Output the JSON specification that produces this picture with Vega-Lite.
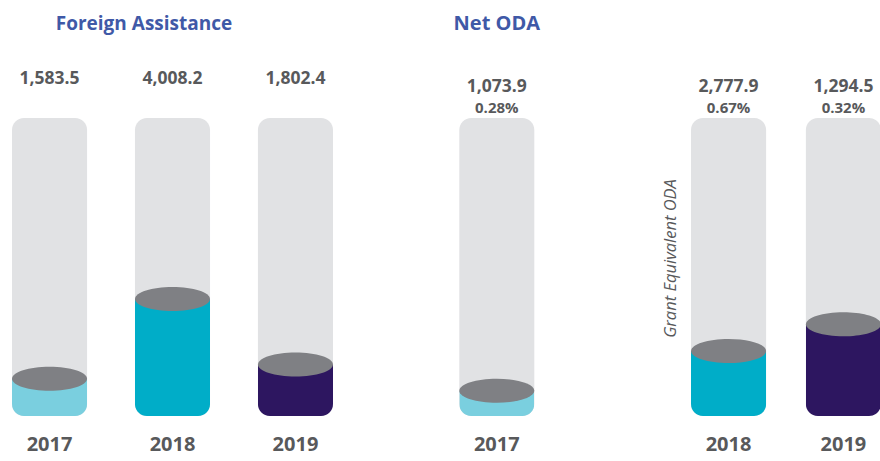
{
  "$schema": "https://vega.github.io/schema/vega-lite/v6.json",
  "background": "white",
  "padding": {"left": 12, "top": 14, "right": 0, "bottom": 5},
  "data": {"values": [
    {"group": "Foreign Assistance", "year": "2017", "value": 1583.5, "pct": null, "fill_pct": 12.5},
    {"group": "Foreign Assistance", "year": "2018", "value": 4008.2, "pct": null, "fill_pct": 39.3},
    {"group": "Foreign Assistance", "year": "2019", "value": 1802.4, "pct": null, "fill_pct": 17.3},
    {"group": "Net ODA", "year": "2017", "value": 1073.9, "pct": 0.0028, "fill_pct": 8.5},
    {"group": "Grant Equivalent ODA", "year": "2018", "value": 2777.9, "pct": 0.0067, "fill_pct": 21.8},
    {"group": "Grant Equivalent ODA", "year": "2019", "value": 1294.5, "pct": 0.0032, "fill_pct": 30.8}
  ]},
  "spacing": 126.3,
  "bounds": "flush",
  "hconcat": [
    {
      "width": 321, "height": 298,
      "title": {"text": "Foreign Assistance", "frame": "group", "anchor": "middle", "dx": -28.5, "offset": 21.3, "baseline": "alphabetic", "fontSize": 19, "fontWeight": "bold", "color": "#3f59a7", "font": "Open Sans"},
      "transform": [{"filter": "datum.group == 'Foreign Assistance'"}],
      "encoding": {"x": {"field": "year", "type": "ordinal", "scale": {"paddingInner": 0.3895, "paddingOuter": 0}, "axis": {"title": null, "domain": false, "ticks": false, "tickSize": 0, "grid": false, "labelAngle": 0, "labelPadding": 18.5, "labelFontSize": 20, "labelFontWeight": "bold", "labelColor": "#58595b", "labelFont": "Open Sans"}}},
      "layer": [
        {"mark": {"type": "bar", "color": "#e1e2e4", "cornerRadius": 12}, "encoding": {"y": {"datum": 100, "type": "quantitative", "scale": {"domain": [0, 100]}, "axis": null}}},
        {"mark": {"type": "bar", "cornerRadiusBottomLeft": 12, "cornerRadiusBottomRight": 12}, "encoding": {"y": {"field": "fill_pct", "type": "quantitative"}, "color": {"field": "year", "type": "nominal", "scale": {"domain": ["2017", "2018", "2019"], "range": ["#7acfdf", "#00adc8", "#2d1660"]}, "legend": null}}},
        {"mark": {"type": "point", "shape": "M-1,0C-1,-0.1767,-0.5523,-0.32,0,-0.32C0.5523,-0.32,1,-0.1767,1,0C1,0.1767,0.5523,0.32,0,0.32C-0.5523,0.32,-1,0.1767,-1,0Z", "size": 5625, "filled": true, "color": "#7f8084", "opacity": 1, "strokeWidth": 0}, "encoding": {"y": {"field": "fill_pct", "type": "quantitative"}}},
        {"mark": {"type": "text", "dy": -33.7, "baseline": "alphabetic", "fontSize": 17.5, "fontWeight": "bold", "color": "#58595b", "font": "Open Sans"}, "encoding": {"y": {"datum": 100, "type": "quantitative"}, "text": {"field": "value", "type": "quantitative", "format": ",.1f"}}}
      ]
    },
    {
      "spacing": 156.7,
      "bounds": "flush",
      "hconcat": [
        {
          "width": 75, "height": 298,
          "title": {"text": "Net ODA", "frame": "group", "anchor": "middle", "offset": 28, "baseline": "alphabetic", "fontSize": 20, "fontWeight": "bold", "color": "#3f59a7", "font": "Open Sans"},
          "transform": [{"filter": "datum.group == 'Net ODA'"}],
          "encoding": {"x": {"field": "year", "type": "ordinal", "scale": {"paddingInner": 0, "paddingOuter": 0}, "axis": {"title": null, "domain": false, "ticks": false, "tickSize": 0, "grid": false, "labelAngle": 0, "labelPadding": 18.5, "labelFontSize": 20, "labelFontWeight": "bold", "labelColor": "#58595b", "labelFont": "Open Sans"}}},
          "layer": [
            {"mark": {"type": "bar", "color": "#e1e2e4", "cornerRadius": 12}, "encoding": {"y": {"datum": 100, "type": "quantitative", "scale": {"domain": [0, 100]}, "axis": null}}},
            {"mark": {"type": "bar", "cornerRadiusBottomLeft": 12, "cornerRadiusBottomRight": 12}, "encoding": {"y": {"field": "fill_pct", "type": "quantitative"}, "color": {"field": "year", "type": "nominal", "scale": {"domain": ["2017", "2018", "2019"], "range": ["#7acfdf", "#00adc8", "#2d1660"]}, "legend": null}}},
            {"mark": {"type": "point", "shape": "M-1,0C-1,-0.1767,-0.5523,-0.32,0,-0.32C0.5523,-0.32,1,-0.1767,1,0C1,0.1767,0.5523,0.32,0,0.32C-0.5523,0.32,-1,0.1767,-1,0Z", "size": 5625, "filled": true, "color": "#7f8084", "opacity": 1, "strokeWidth": 0}, "encoding": {"y": {"field": "fill_pct", "type": "quantitative"}}},
            {"mark": {"type": "text", "dy": -25.7, "baseline": "alphabetic", "fontSize": 17.5, "fontWeight": "bold", "color": "#58595b", "font": "Open Sans"}, "encoding": {"y": {"datum": 100, "type": "quantitative"}, "text": {"field": "value", "type": "quantitative", "format": ",.1f"}}},
            {"mark": {"type": "text", "dy": -5.3, "baseline": "alphabetic", "fontSize": 15, "fontWeight": "bold", "color": "#58595b", "font": "Open Sans"}, "encoding": {"y": {"datum": 100, "type": "quantitative"}, "text": {"field": "pct", "type": "quantitative", "format": ".2%"}}}
          ]
        },
        {
          "width": 190, "height": 298,
          "transform": [{"filter": "datum.group == 'Grant Equivalent ODA'"}],
          "encoding": {"x": {"field": "year", "type": "ordinal", "scale": {"paddingInner": 0.346, "paddingOuter": 0}, "axis": {"title": null, "domain": false, "ticks": false, "tickSize": 0, "grid": false, "labelAngle": 0, "labelPadding": 18.5, "labelFontSize": 20, "labelFontWeight": "bold", "labelColor": "#58595b", "labelFont": "Open Sans"}}},
          "layer": [
            {"mark": {"type": "bar", "color": "#e1e2e4", "cornerRadius": 12}, "encoding": {"y": {"datum": 100, "type": "quantitative", "scale": {"domain": [0, 100]}, "axis": {"title": "Grant Equivalent ODA", "labels": false, "ticks": false, "tickSize": 0, "domain": false, "grid": false, "titleFontStyle": "italic", "titleFontWeight": "normal", "titleFontSize": 16.5, "titleColor": "#58595b", "titleFont": "Open Sans", "titlePadding": 12.5, "titleY": 140}}}},
            {"mark": {"type": "bar", "cornerRadiusBottomLeft": 12, "cornerRadiusBottomRight": 12}, "encoding": {"y": {"field": "fill_pct", "type": "quantitative"}, "color": {"field": "year", "type": "nominal", "scale": {"domain": ["2017", "2018", "2019"], "range": ["#7acfdf", "#00adc8", "#2d1660"]}, "legend": null}}},
            {"mark": {"type": "point", "shape": "M-1,0C-1,-0.1767,-0.5523,-0.32,0,-0.32C0.5523,-0.32,1,-0.1767,1,0C1,0.1767,0.5523,0.32,0,0.32C-0.5523,0.32,-1,0.1767,-1,0Z", "size": 5625, "filled": true, "color": "#7f8084", "opacity": 1, "strokeWidth": 0}, "encoding": {"y": {"field": "fill_pct", "type": "quantitative"}}},
            {"mark": {"type": "text", "dy": -25.7, "baseline": "alphabetic", "fontSize": 17.5, "fontWeight": "bold", "color": "#58595b", "font": "Open Sans"}, "encoding": {"y": {"datum": 100, "type": "quantitative"}, "text": {"field": "value", "type": "quantitative", "format": ",.1f"}}},
            {"mark": {"type": "text", "dy": -5.3, "baseline": "alphabetic", "fontSize": 15, "fontWeight": "bold", "color": "#58595b", "font": "Open Sans"}, "encoding": {"y": {"datum": 100, "type": "quantitative"}, "text": {"field": "pct", "type": "quantitative", "format": ".2%"}}}
          ]
        }
      ]
    }
  ],
  "config": {"font": "Open Sans", "view": {"stroke": null}}
}
